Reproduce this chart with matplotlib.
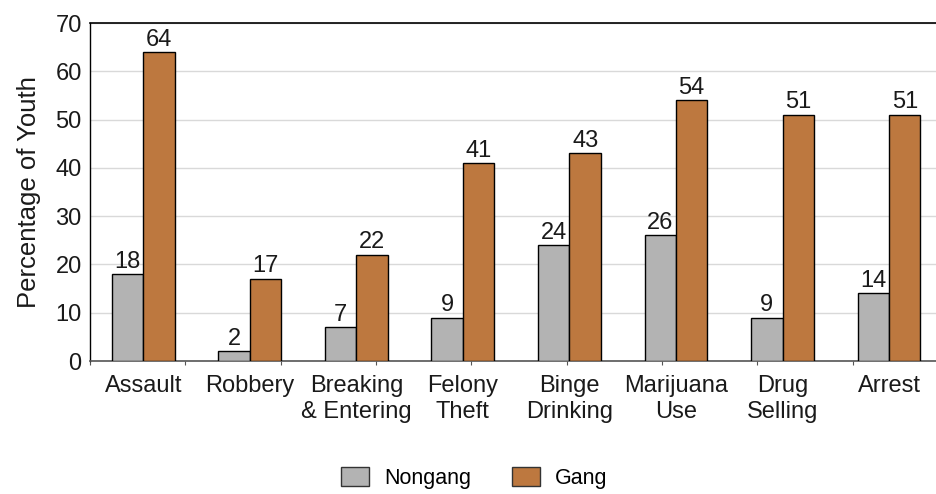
import matplotlib
matplotlib.use("Agg")
import matplotlib.pyplot as plt
import numpy as np
from matplotlib.patches import Patch

plt.rcParams['font.family'] = ['Liberation Sans', 'DejaVu Sans']

categories = ["Assault", "Robbery", "Breaking\n& Entering", "Felony\nTheft",
              "Binge\nDrinking", "Marijuana\nUse", "Drug\nSelling", "Arrest"]
nongang = [18, 2, 7, 9, 24, 26, 9, 14]
gang = [64, 17, 22, 41, 43, 54, 51, 51]
yticks = [0, 10, 20, 30, 40, 50, 60, 70]

gray = "#b3b3b3"
orange = "#bd783f"
txt = "#1a1a1a"

fig = plt.figure(figsize=(9.37, 4.94), dpi=100)
ax = fig.add_axes([90 / 937, 1 - 361 / 494, 1 - 90 / 937, (361 - 23) / 494])

x = np.arange(len(categories))
w = 0.295
b1 = ax.bar(x - w / 2, nongang, w, color=gray, edgecolor="black", linewidth=1.0, zorder=3)
b2 = ax.bar(x + w / 2, gang, w, color=orange, edgecolor="black", linewidth=1.0, zorder=3)

for rects, vals in ((b1, nongang), (b2, gang)):
    for r, v in zip(rects, vals):
        ax.text(r.get_x() + r.get_width() / 2, v + 0.3, f"{v}", ha="center", va="bottom",
                fontsize=17, color=txt)

ax.set_xlim(-0.5, 7.45)
ax.set_ylim(0, 70)
ax.set_yticks(yticks)
ax.set_yticklabels([str(t) for t in yticks], fontsize=17, color=txt)
ax.tick_params(axis="y", length=0, pad=6)
ax.set_xticks(x)
ax.set_xticklabels(categories, fontsize=17, color=txt, linespacing=1.22)
ax.tick_params(axis="x", length=0, pad=10)

# small tick marks along the baseline
minor = -0.5 + np.arange(9) * 0.895
ax.set_xticks(minor, minor=True)
ax.tick_params(axis="x", which="minor", length=3, width=0.8, color="#555555")

ax.grid(axis="y", color="#d9d9d9", linewidth=1.0, zorder=0)
ax.set_axisbelow(True)

ax.spines["right"].set_visible(False)
ax.spines["top"].set_color("black")
ax.spines["top"].set_linewidth(1.2)
ax.spines["left"].set_color("black")
ax.spines["left"].set_linewidth(1.0)
ax.spines["bottom"].set_color("#555555")
ax.spines["bottom"].set_linewidth(1.2)

ax.set_ylabel("Percentage of Youth", fontsize=18.5, color=txt, labelpad=10)

handles = [Patch(facecolor=gray, edgecolor="#333333", label="Nongang"),
           Patch(facecolor=orange, edgecolor="#333333", label="Gang")]
fig.legend(handles=handles, loc="center", bbox_to_anchor=(474 / 937, 1 - 478 / 494),
           ncol=2, frameon=False, fontsize=15.5, handlelength=1.3, handleheight=0.95,
           columnspacing=1.9, handletextpad=0.7)

fig.savefig("out.png", dpi=100)
